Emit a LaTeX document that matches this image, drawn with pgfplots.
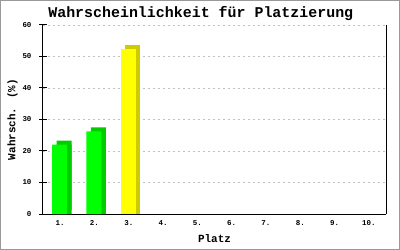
\documentclass[border=0pt]{standalone}
\usepackage{pgfplots}
\pgfplotsset{compat=1.18}
\usepackage{pgfplotstable}
\usepackage{fontspec}
\setmainfont{Liberation Mono}
\definecolor{gfront}{HTML}{00FF00}
\definecolor{gside}{HTML}{00CC00}
\definecolor{yfront}{HTML}{FFFF00}
\definecolor{yside}{HTML}{CCCC00}
\definecolor{frame}{HTML}{999999}
\definecolor{gridc}{HTML}{C0C0C0}
\pgfplotstableread{
x y
1 22.0
2 26.2
}\greendata
\pgfplotstableread{
x y
3 52.3
}\yellowdata
\begin{document}
\begin{tikzpicture}
\useasboundingbox (0,0) rectangle (400bp,250bp);
\draw[color=frame, line width=1bp] (0.5bp,0.5bp) rectangle (399.5bp,249.5bp);
\begin{axis}[
  at={(43bp,36bp)}, anchor=south west,
  scale only axis, width=343bp, height=189bp,
  xmin=0.5, xmax=10.5, ymin=0, ymax=60,
  xtick={1,...,10},
  xticklabels={1.,2.,3.,4.,5.,6.,7.,8.,9.,10.},
  ytick={0,10,...,60},
  axis x line*=bottom, axis y line*=left,
  axis line style={black, line width=1bp},
  ymajorgrids,
  grid style={color=gridc, dash pattern=on 2bp off 3bp, line width=0.8bp},
  tick align=center,
  y tick style={black, line width=1bp},
  x tick style={draw=none},
  major tick length=8bp,
  /pgf/number format/assume math mode=true,
  tick label style={font=\fontsize{7.5}{8}\selectfont\bfseries},
  xticklabel style={yshift=1bp},
  yticklabel style={xshift=-4bp},
  title={Wahrscheinlichkeit für Platzierung},
  title style={font=\fontsize{15}{16}\selectfont\bfseries, at={(0.46,1)}, anchor=base, yshift=2bp},
  xlabel={Platz},
  ylabel={Wahrsch. (\%)},
  label style={font=\fontsize{11}{12}\selectfont\bfseries},
  xlabel style={yshift=-2bp},
  ylabel style={yshift=-2bp},
  clip=false,
]
\addplot[ybar, bar width=15bp, bar shift=4bp, fill=gside, draw=none] table {\greendata};
\addplot[ybar, bar width=15bp, bar shift=4bp, yshift=4bp, fill=gside, draw=none] table {\greendata};
\addplot[ybar, bar width=15bp, bar shift=-0.5bp, fill=gfront, draw=none] table {\greendata};
\addplot[ybar, bar width=15bp, bar shift=4bp, fill=yside, draw=none] table {\yellowdata};
\addplot[ybar, bar width=15bp, bar shift=4bp, yshift=4bp, fill=yside, draw=none] table {\yellowdata};
\addplot[ybar, bar width=15bp, bar shift=-0.5bp, fill=yfront, draw=none] table {\yellowdata};
\draw[black, line width=1bp] (rel axis cs:1,0) -- (rel axis cs:1,1);
\end{axis}
\end{tikzpicture}
\end{document}
